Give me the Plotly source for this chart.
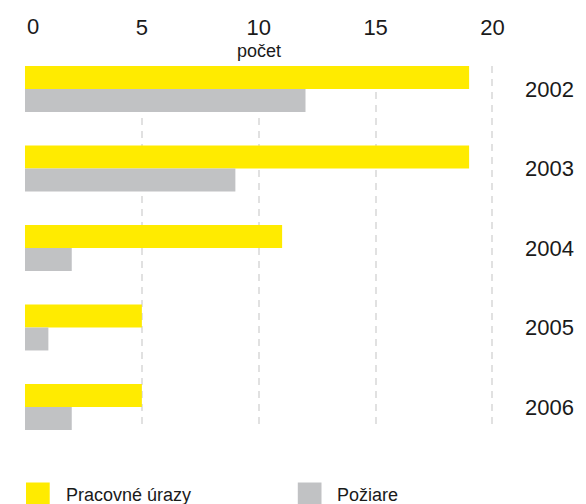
import plotly.graph_objects as go

# Data
years = ["2002", "2003", "2004", "2005", "2006"]
pracovne_urazy = [19, 19, 11, 5, 5]
poziare = [12, 9, 2, 1, 2]
x_ticks = [5, 10, 15, 20]
series_names = ["Pracovné úrazy", "Požiare"]

YELLOW = "#FFEB00"
GRAY = "#C1C2C4"
TEXT = "#1A1A1A"
FONT = "Liberation Sans, Arial, sans-serif"

X_MAX = 20.15  # a little past 20 so the last grid line is drawn

W, H = 586, 504
M_L, M_T, M_B = 25, 66, 74
PX_PER_UNIT = 23.65
PLOT_W = X_MAX * PX_PER_UNIT
M_R = W - M_L - PLOT_W
PLOT_H = H - M_T - M_B


def px_x(p):
    """Pixel column -> paper x."""
    return (p - M_L) / PLOT_W


def px_y(p):
    """Pixel row -> paper y."""
    return (H - M_B - p) / PLOT_H


BARGAP = 0.423
half = (1 - BARGAP) / 2

fig = go.Figure()
fig.add_trace(go.Bar(y=years, x=pracovne_urazy, orientation="h",
                     name=series_names[0], marker_color=YELLOW,
                     marker_line_width=0, showlegend=False))
fig.add_trace(go.Bar(y=years, x=poziare, orientation="h",
                     name=series_names[1], marker_color=GRAY,
                     marker_line_width=0, showlegend=False))

fig.update_layout(
    width=W, height=H,
    margin=dict(l=M_L, r=M_R, t=M_T, b=M_B, pad=0),
    paper_bgcolor="white", plot_bgcolor="white",
    barmode="group", bargap=BARGAP, bargroupgap=0,
    font=dict(family=FONT, color=TEXT),
    xaxis=dict(
        side="top", range=[0, X_MAX], tickvals=x_ticks,
        showgrid=True, gridcolor="#E1E1E1", gridwidth=1.5, griddash="7px,6px",
        zeroline=False, showline=False, ticks="",
        ticklabelstandoff=26,
        tickfont=dict(size=22, color=TEXT, family=FONT),
    ),
    yaxis=dict(
        type="category", side="right",
        range=[len(years) - 1 + half, -half],
        showgrid=False, zeroline=False, showline=False, ticks="",
        ticklabelstandoff=28,
        tickfont=dict(size=22, color=TEXT, family=FONT),
    ),
)

# zero tick label, aligned to the start of the axis
fig.add_annotation(x=0, xref="x", y=px_y(27), yref="paper", text="0",
                   showarrow=False, xanchor="left", yanchor="middle",
                   font=dict(size=22, color=TEXT, family=FONT))

# axis title sitting between the tick labels and the bars
fig.add_annotation(x=10, xref="x", y=px_y(51), yref="paper", text="počet",
                   showarrow=False, xanchor="center", yanchor="middle",
                   font=dict(size=18, color=TEXT, family=FONT))

# legend
legend_items = [(26, YELLOW, series_names[0]), (301, GRAY, series_names[1])]
for left, color, label in legend_items:
    fig.add_shape(type="rect", xref="paper", yref="paper",
                  x0=px_x(left), x1=px_x(left + 24),
                  y0=px_y(482.5), y1=px_y(506.5),
                  fillcolor=color, line_width=0, layer="above")
    fig.add_annotation(x=px_x(left + 38), xref="paper", y=px_y(495),
                       yref="paper", text=label, showarrow=False,
                       xanchor="left", yanchor="middle",
                       font=dict(size=18, color=TEXT, family=FONT))

fig.write_html("out.html")
